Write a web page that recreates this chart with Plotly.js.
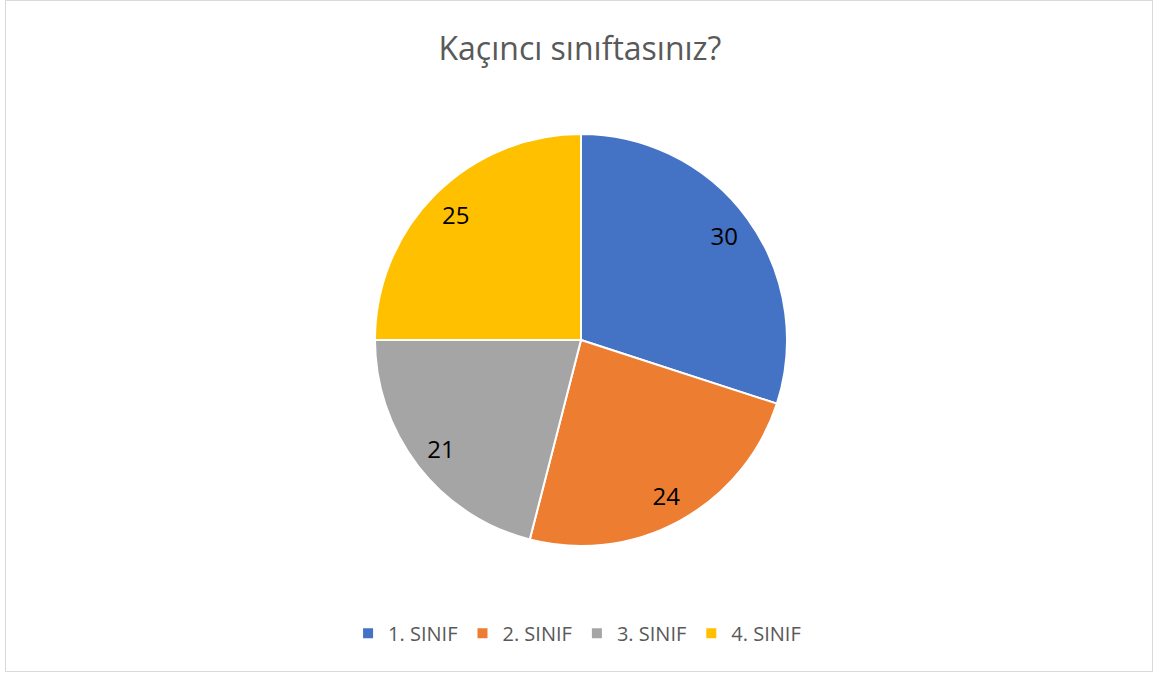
<!DOCTYPE html>
<html>
<head>
<meta charset="utf-8">
<script src="https://cdn.plot.ly/plotly-3.0.1.min.js"></script>
<style>
html,body{margin:0;padding:0;background:#fff;}
#frame{position:absolute;left:5px;top:0;width:1146px;height:670px;border:1px solid #d9d9d9;box-sizing:content-box;}
#chart{position:absolute;left:0;top:0;width:1153px;height:673px;}
</style>
</head>
<body>
<div id="frame"></div>
<div id="chart"></div>
<script>
var categories = ["1. SINIF", "2. SINIF", "3. SINIF", "4. SINIF"];
var values = [30, 24, 21, 25];
var colors = ["#4472C4", "#ED7D31", "#A5A5A5", "#FFC000"];

var pieDomain = {x: [0.3252, 0.6826], y: [0.1887, 0.8009]};
var fontFam = "'Open Sans', Lato, sans-serif";

var slices = {
  type: "pie",
  labels: categories,
  values: values,
  sort: false,
  direction: "clockwise",
  rotation: 0,
  textinfo: "none",
  marker: {colors: colors, line: {color: "#ffffff", width: 2}},
  domain: pieDomain,
  hoverinfo: "label+value"
};

// transparent ring carrying the data labels near the rim
var labelRing = {
  type: "pie",
  labels: categories,
  values: values,
  sort: false,
  direction: "clockwise",
  rotation: 0,
  hole: 0.72,
  textinfo: "value",
  textposition: "inside",
  insidetextorientation: "horizontal",
  textfont: {family: fontFam, size: 24, color: "#000000"},
  marker: {colors: ["rgba(0,0,0,0)","rgba(0,0,0,0)","rgba(0,0,0,0)","rgba(0,0,0,0)"], line: {width: 0}},
  domain: pieDomain,
  showlegend: false,
  hoverinfo: "skip"
};

var layout = {
  width: 1153,
  height: 673,
  margin: {l: 0, r: 0, t: 0, b: 0},
  paper_bgcolor: "rgba(0,0,0,0)",
  plot_bgcolor: "rgba(0,0,0,0)",
  title: {
    text: "Kaçıncı sınıftasınız?",
    font: {family: fontFam, size: 32, color: "#595959"},
    x: 0.503, xanchor: "center",
    y: 0.928, yanchor: "middle"
  },
  showlegend: true,
  legend: {
    orientation: "h",
    x: 0.5005, xanchor: "center",
    y: 0.059, yanchor: "middle",
    font: {family: fontFam, size: 20, color: "#595959"}
  }
};

Plotly.newPlot("chart", [slices, labelRing], layout, {displayModeBar: false, staticPlot: true});
</script>
</body>
</html>
